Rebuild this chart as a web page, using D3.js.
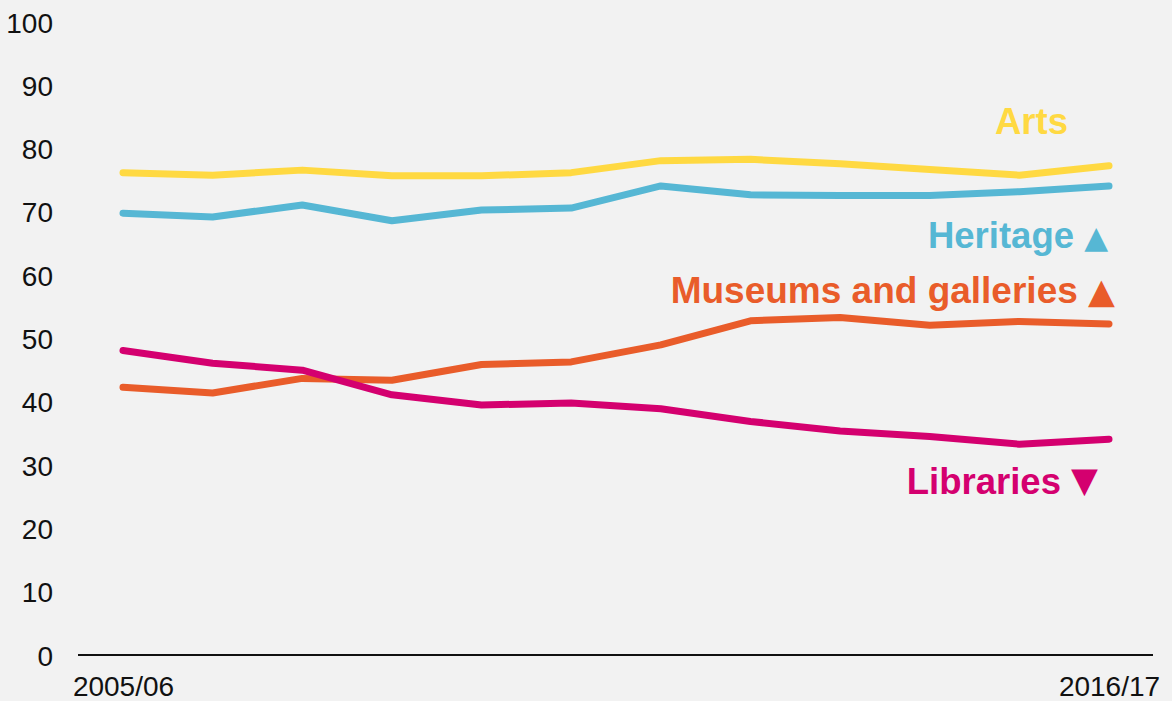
<!DOCTYPE html>
<html>
<head>
<meta charset="utf-8">
<script src="https://cdn.jsdelivr.net/npm/d3@7"></script>
<style>
  html, body { margin: 0; padding: 0; background: #f2f2f2; }
  svg { display: block; }
  text { font-family: "Liberation Sans", Arial, sans-serif; }
</style>
</head>
<body>
<svg id="chart" width="1172" height="701"></svg>
<script>
const years = ["2005/06","2006/07","2007/08","2008/09","2009/10","2010/11","2011/12","2012/13","2013/14","2014/15","2015/16","2016/17"];
const arts      = [76.2, 75.8, 76.6, 75.7, 75.7, 76.2, 78.1, 78.3, 77.6, 76.7, 75.8, 77.3];
const heritage  = [69.8, 69.2, 71.1, 68.6, 70.3, 70.6, 74.1, 72.7, 72.6, 72.6, 73.2, 74.1];
const museums   = [42.3, 41.4, 43.7, 43.4, 45.9, 46.3, 49.0, 52.8, 53.3, 52.1, 52.7, 52.3];
const libraries = [48.1, 46.1, 45.0, 41.1, 39.5, 39.8, 38.9, 36.9, 35.4, 34.5, 33.3, 34.1];
const yTicks = [0,10,20,30,40,50,60,70,80,90,100];
const xTickLabels = ["2005/06","2016/17"];

const series = [
  {name: "Arts", values: arts, color: "#ffd942", label: "Arts", arrow: "", lx: 1068, ly: 134, fs: 36.5},
  {name: "Heritage", values: heritage, color: "#56b7d4", label: "Heritage", arrow: "▲", lx: 1108, ly: 248, fs: 36.5, afs: 31, ady: 0},
  {name: "Museums and galleries", values: museums, color: "#e95c2a", label: "Museums and galleries", arrow: "▲", lx: 1115, ly: 303, fs: 37, afs: 35, ady: 0},
  {name: "Libraries", values: libraries, color: "#d4006f", label: "Libraries", arrow: "▼", lx: 1098, ly: 494, fs: 36.5, afs: 35, ady: -2}
];

const svg = d3.select("#chart");
svg.append("rect").attr("width",1172).attr("height",701).attr("fill","#f2f2f2");

const x = d3.scalePoint().domain(years).range([123, 1109]);
const y = d3.scaleLinear().domain([0, 100]).range([655, 22]);

// y axis
const yAxis = svg.append("g").attr("transform","translate(53,0)")
  .call(d3.axisLeft(y).tickValues(yTicks).tickSize(0).tickPadding(0));
yAxis.select(".domain").remove();
yAxis.selectAll("text").attr("font-size", 28).attr("fill", "#111")
  .attr("font-family", "Liberation Sans, Arial, sans-serif").attr("dy", "0.36em");

// baseline
svg.append("line").attr("x1", 78).attr("x2", 1153).attr("y1", y(0)).attr("y2", y(0))
  .attr("stroke", "#111").attr("stroke-width", 2);

// x axis labels
const xAxis = svg.append("g").attr("transform", `translate(0,${y(0)})`)
  .call(d3.axisBottom(x).tickValues(xTickLabels).tickSize(0).tickPadding(0));
xAxis.select(".domain").remove();
xAxis.selectAll("text").attr("font-size", 28).attr("fill", "#111")
  .attr("font-family", "Liberation Sans, Arial, sans-serif").attr("dy", null).attr("y", 41);

// lines
const line = d3.line().x((d, i) => x(years[i])).y(d => y(d));
series.forEach(s => {
  svg.append("path").datum(s.values)
    .attr("d", line)
    .attr("fill", "none")
    .attr("stroke", s.color)
    .attr("stroke-width", 7)
    .attr("stroke-linecap", "round")
    .attr("stroke-linejoin", "round");
});

// labels
series.forEach(s => {
  const t = svg.append("text")
    .attr("x", s.lx).attr("y", s.ly)
    .attr("text-anchor", "end")
    .attr("font-weight", "bold")
    .attr("font-size", s.fs)
    .attr("fill", s.color);
  t.append("tspan").text(s.label + (s.arrow ? " " : ""));
  if (s.arrow) {
    t.append("tspan").attr("font-size", s.afs).attr("dy", s.ady)
      .attr("font-family", "DejaVu Sans, sans-serif").text(s.arrow);
  }
});
</script>
</body>
</html>
